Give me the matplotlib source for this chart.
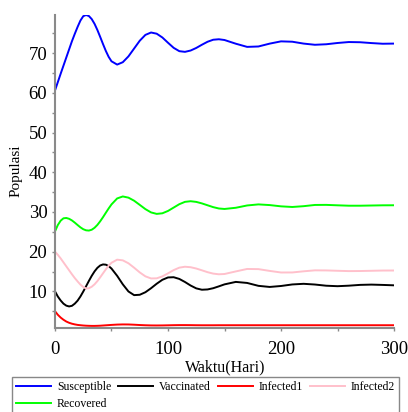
import matplotlib
matplotlib.use("Agg")
import matplotlib.pyplot as plt
from matplotlib.ticker import MultipleLocator

plt.rcParams["font.family"] = ["Liberation Serif", "DejaVu Serif"]

# Simulation output (days) for the SVIR model compartments
t = [0, 2.5, 5, 7.5, 10, 12.5, 15, 17.5, 20, 22.5, 25, 27.5, 30, 32.5, 35,
     37.5, 40, 42.5, 45, 47.5, 50, 55, 60, 65, 70, 75, 80, 85, 90,
     95, 100, 105, 110, 115, 120, 125, 130, 135, 140, 145, 150, 160, 170, 180,
     190, 200, 210, 220, 230, 240, 250, 260, 270, 280, 290, 300]

susceptible = [60.6, 62.7, 64.8, 66.85, 68.9, 70.95, 73.0, 74.85, 76.6, 78.2,
               79.3, 79.6, 79.34, 78.57, 77.37, 75.83, 74.08, 72.27, 70.54,
               69.05, 67.94, 67.11, 67.71, 69.18, 71.15, 73.12, 74.59, 75.19,
               74.89, 73.94, 72.61, 71.33, 70.49, 70.32, 70.65, 71.30, 72.11,
               72.86, 73.37, 73.49, 73.30, 72.37, 71.57, 71.67, 72.39, 72.96,
               72.87, 72.40, 72.10, 72.23, 72.55, 72.79, 72.74, 72.53, 72.36,
               72.40]

vaccinated = [10.0, 8.7, 7.7, 6.9, 6.4, 6.2, 6.36, 6.9, 7.66, 8.71, 9.95,
              11.28, 12.63, 13.91, 15.03, 15.92, 16.52, 16.78, 16.72, 16.36,
              15.74, 13.91, 11.77, 9.97, 9.05, 9.14, 9.78, 10.79, 11.92, 12.91,
              13.50, 13.56, 13.13, 12.36, 11.47, 10.75, 10.41, 10.48, 10.79,
              11.26, 11.76, 12.38, 12.12, 11.39, 11.11, 11.35, 11.74, 11.90,
              11.72, 11.42, 11.30, 11.43, 11.63, 11.70, 11.62, 11.52]

infected1 = [5.0, 4.1, 3.4, 2.85, 2.4, 2.08, 1.85, 1.68, 1.55, 1.47, 1.4,
             1.35, 1.32, 1.3, 1.3, 1.32, 1.35, 1.4, 1.45, 1.5, 1.55, 1.63,
             1.67, 1.66, 1.60, 1.52, 1.46, 1.42, 1.41, 1.42, 1.45, 1.48, 1.50,
             1.50, 1.49, 1.47, 1.46, 1.46, 1.46, 1.47, 1.47, 1.47, 1.47, 1.47,
             1.47, 1.47, 1.47, 1.47, 1.47, 1.47, 1.47, 1.47, 1.47, 1.47, 1.47,
             1.47]

infected2 = [20.0, 19.2, 18.3, 17.3, 16.3, 15.3, 14.3, 13.35, 12.5, 11.7,
             11.1, 10.72, 10.79, 11.16, 11.77, 12.58, 13.54, 14.55, 15.55,
             16.46, 17.20, 17.98, 17.81, 17.07, 15.96, 14.77, 13.78, 13.25,
             13.28, 13.77, 14.53, 15.35, 15.97, 16.20, 16.08, 15.75, 15.30,
             14.83, 14.47, 14.30, 14.37, 15.02, 15.64, 15.60, 15.15, 14.75,
             14.76, 15.05, 15.29, 15.27, 15.18, 15.10, 15.12, 15.18, 15.24,
             15.25]

recovered = [25.1, 26.7, 27.8, 28.4, 28.48, 28.27, 27.86, 27.31, 26.70, 26.12,
             25.65, 25.37, 25.31, 25.52, 26.01, 26.73, 27.65, 28.69, 29.80,
             30.89, 31.90, 33.40, 33.90, 33.60, 32.83, 31.78, 30.71, 29.88,
             29.51, 29.66, 30.25, 31.10, 31.95, 32.54, 32.70, 32.53, 32.15,
             31.68, 31.21, 30.87, 30.75, 31.05, 31.63, 31.90, 31.73, 31.41,
             31.25, 31.45, 31.76, 31.78, 31.67, 31.57, 31.57, 31.62, 31.67,
             31.68]

series = [
    ("Susceptible", susceptible, "#0000ff"),
    ("Vaccinated", vaccinated, "#000000"),
    ("Infected1", infected1, "#ff0000"),
    ("Infected2", infected2, "#ffc0cb"),
    ("Recovered", recovered, "#00ff00"),
]

fig = plt.figure(figsize=(4.08, 4.12), dpi=100)
ax = fig.add_axes([0.1348, 0.2032, 0.8309, 0.7604])

lines = {}
for name, vals, col in series:
    lines[name], = ax.plot(t, vals, color=col, lw=1.4, label=name)

ax.set_xlim(0, 300)
ax.set_ylim(0.7, 79.6)

ax.xaxis.set_major_locator(MultipleLocator(100))
ax.xaxis.set_minor_locator(MultipleLocator(50))
ax.yaxis.set_major_locator(MultipleLocator(10))
ax.yaxis.set_minor_locator(MultipleLocator(5))
ax.set_yticks([10, 20, 30, 40, 50, 60, 70])

for side in ("top", "right"):
    ax.spines[side].set_visible(False)
for side in ("left", "bottom"):
    ax.spines[side].set_color("#8a8a8a")
    ax.spines[side].set_linewidth(1.5)

ax.tick_params(which="both", direction="out", length=2.5, width=1.0,
               color="#8a8a8a", labelsize=13.5)
ax.tick_params(axis="y", which="both", pad=3)
ax.tick_params(axis="x", which="both", pad=7)

fig.text(0.553, 1 - 367 / 412, "Waktu(Hari)", ha="center", va="center",
         fontsize=11.5)
fig.text(16 / 408, 1 - 171 / 412, "Populasi", ha="center", va="center",
         rotation=90, fontsize=11)

# legend is filled column by column, so order entries to read row by row
order = ["Susceptible", "Recovered", "Vaccinated", "Infected1", "Infected2"]
leg = fig.legend([lines[n] for n in order], order,
                 loc="upper left", bbox_to_anchor=(12 / 408, 1 - 377 / 412),
                 ncol=4, fontsize=8.5, handlelength=2.95, handletextpad=0.5,
                 columnspacing=0.6, labelspacing=0.45, borderpad=0.35,
                 borderaxespad=0, fancybox=False, frameon=True)
leg.get_frame().set_edgecolor("#6a6a6a")
leg.get_frame().set_linewidth(1.0)

fig.savefig("out.png", dpi=100)
